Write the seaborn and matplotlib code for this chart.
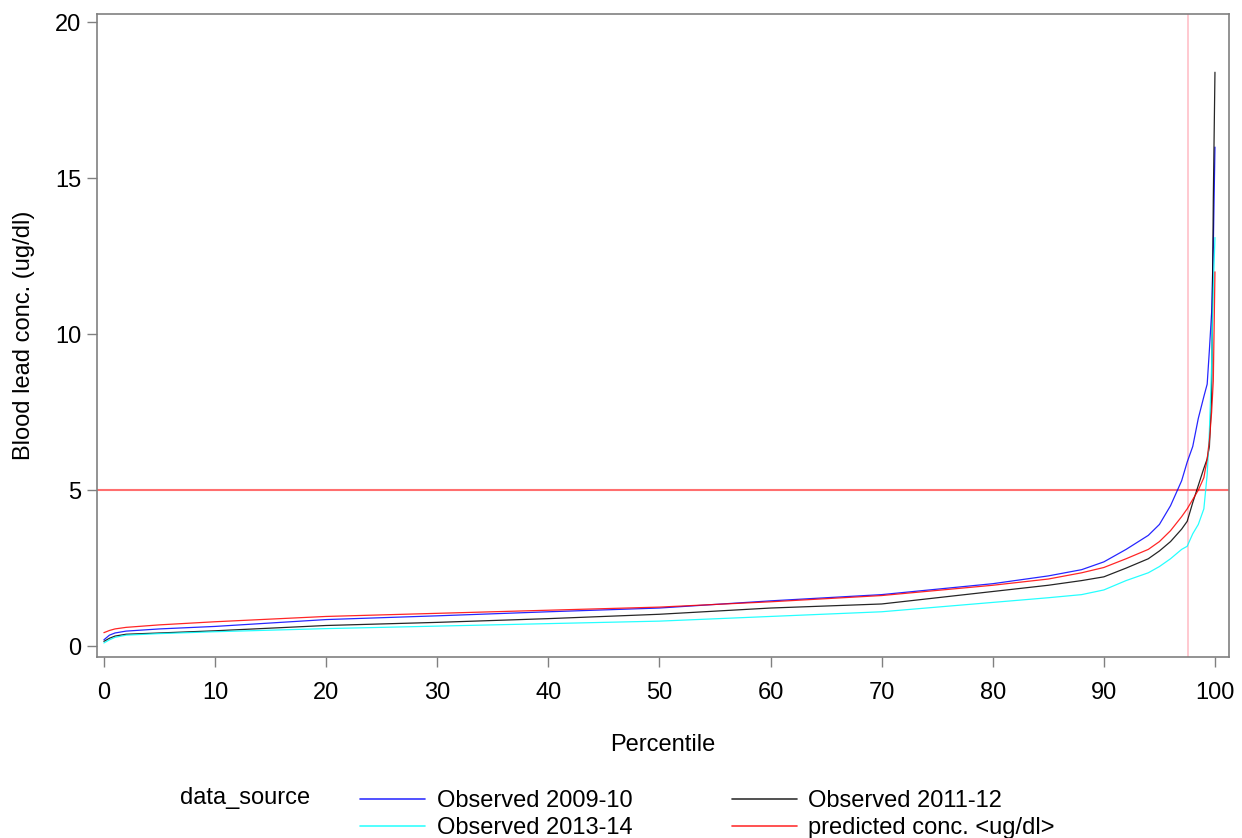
import pandas as pd
import numpy as np
import matplotlib
matplotlib.use("Agg")
import matplotlib.pyplot as plt
import seaborn as sns

# percentiles (denser in the upper tail)
pct = [0, 0.5, 1, 2, 5, 10, 20, 30, 40, 50, 60, 70, 80, 85, 88, 90, 92, 94, 95,
       96, 97, 97.5, 98, 98.5, 99, 99.3, 99.5, 99.7, 99.85, 100]

obs_2009 = [0.2, 0.35, 0.42, 0.48, 0.55, 0.63, 0.85, 0.97, 1.1, 1.22, 1.45, 1.65, 2.0, 2.25,
            2.45, 2.7, 3.1, 3.55, 3.9, 4.5, 5.3, 5.9, 6.4, 7.3, 8.0, 8.4, 9.5, 10.7, 12.8, 16.0]
obs_2011 = [0.15, 0.25, 0.32, 0.38, 0.42, 0.49, 0.66, 0.76, 0.88, 1.02, 1.22, 1.35, 1.75, 1.95,
            2.1, 2.22, 2.5, 2.8, 3.05, 3.35, 3.75, 4.0, 4.6, 5.15, 5.7, 6.0, 6.4, 8.0, 14.3, 18.4]
obs_2013 = [0.1, 0.2, 0.28, 0.35, 0.4, 0.46, 0.56, 0.64, 0.72, 0.8, 0.95, 1.1, 1.4, 1.55,
            1.65, 1.8, 2.1, 2.35, 2.55, 2.8, 3.1, 3.2, 3.6, 3.9, 4.4, 5.5, 6.9, 9.0, 11.5, 13.1]
predicted = [0.43, 0.5, 0.55, 0.6, 0.68, 0.78, 0.95, 1.05, 1.15, 1.25, 1.42, 1.62, 1.95, 2.15,
             2.35, 2.52, 2.8, 3.1, 3.35, 3.7, 4.15, 4.4, 4.7, 5.0, 5.4, 6.0, 6.6, 7.5, 8.5, 12.0]

sources = ["Observed 2009-10", "Observed 2011-12", "Observed 2013-14", "predicted conc. <ug/dl>"]
colors = {"Observed 2009-10": "#0000FF", "Observed 2011-12": "#000000",
          "Observed 2013-14": "#00FFFF", "predicted conc. <ug/dl>": "#FF0000"}

ref_conc = 5
ref_pct = 97.6

frames = []
for name, vals in zip(sources, [obs_2009, obs_2011, obs_2013, predicted]):
    frames.append(pd.DataFrame({"Percentile": pct, "conc": vals, "data_source": name}))
df = pd.concat(frames, ignore_index=True)

sns.set_theme(style="white")
plt.rcParams['font.family'] = ['Liberation Sans', 'DejaVu Sans']
plt.rcParams['text.color'] = 'black'
plt.rcParams['axes.labelcolor'] = 'black'
plt.rcParams['xtick.color'] = 'black'
plt.rcParams['ytick.color'] = 'black'

fig = plt.figure(figsize=(12.42, 8.38), dpi=100)
ax = fig.add_axes([0.078, 0.216, 0.9115, 0.767])

ax.axvline(ref_pct, color="#FFC0C8", lw=1.2, zorder=1)
ax.axhline(ref_conc, color="#FF6F6F", lw=1.5, zorder=1)

sns.lineplot(data=df, x="Percentile", y="conc", hue="data_source", hue_order=sources,
             palette=colors, lw=0.9, alpha=0.85, ax=ax, legend=False, zorder=3)

ax.set_xlim(-0.63, 101.26)
ax.set_ylim(-0.35, 20.26)
ax.set_xticks(range(0, 101, 10))
ax.set_yticks([0, 5, 10, 15, 20])
ax.tick_params(axis="both", labelsize=17, length=7, width=1, color="#808080",
               labelcolor="black", direction="out", bottom=True, left=True, pad=4)
ax.tick_params(axis="x", pad=11)
for s in ax.spines.values():
    s.set_color("#808080")
    s.set_linewidth(1.2)
ax.set_xlabel("Percentile", fontsize=17)
ax.set_ylabel("Blood lead conc. (ug/dl)", fontsize=17)
ax.xaxis.set_label_coords(0.5, -0.137)
ax.yaxis.set_label_coords(-0.0645, 0.5)
ax.xaxis.label.set_va("center")
ax.yaxis.label.set_va("center")

# legend below the plot
handles = [plt.Line2D([], [], color=colors[s], lw=1.2, alpha=0.8) for s in sources]
order = [0, 2, 1, 3]
leg = fig.legend([handles[i] for i in order], [sources[i] for i in order], ncol=2,
                 loc="upper left", bbox_to_anchor=(0.290, 0.057), frameon=False,
                 fontsize=17, handlelength=2.75, columnspacing=4.2, labelspacing=0.2,
                 borderpad=0, borderaxespad=0, handletextpad=0.5)
fig.text(0.145, 1 - 798 / 838, "data_source", fontsize=17, va="center")

fig.savefig("out.png", dpi=100)
